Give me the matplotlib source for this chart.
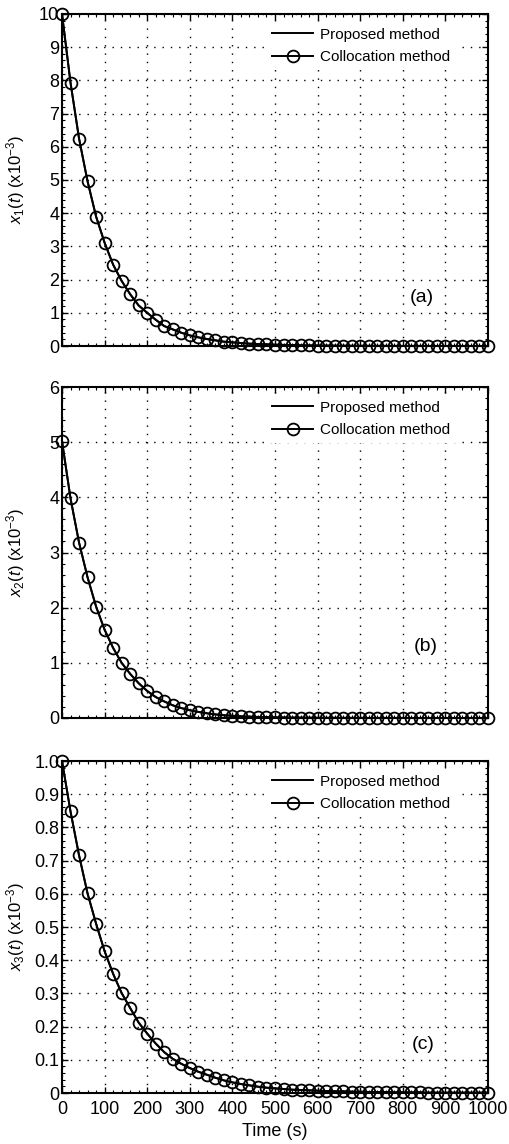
import matplotlib
matplotlib.use('Agg')
import matplotlib.pyplot as plt
from matplotlib.ticker import MultipleLocator, FixedLocator, FixedFormatter

plt.rcParams['font.family'] = ['Liberation Sans', 'DejaVu Sans']
plt.rcParams['mathtext.fontset'] = 'custom'
plt.rcParams['mathtext.rm'] = 'Liberation Sans'
plt.rcParams['mathtext.it'] = 'Liberation Sans:italic'

# time samples (s), one every 20 s
time = list(range(0, 1001, 20))

x1 = [10.0, 7.93, 6.25, 4.96, 3.90, 3.11, 2.45, 1.96, 1.56, 1.22, 1.0, 0.79, 0.60,
      0.50, 0.40, 0.32, 0.26, 0.21, 0.17, 0.13, 0.11, 0.09, 0.07, 0.06, 0.05, 0.04,
      0.033, 0.027, 0.022, 0.018, 0.015, 0.012, 0.01, 0.008, 0.007, 0.006, 0.005,
      0.004, 0.003, 0.003, 0.002, 0.002, 0.002, 0.001, 0.001, 0.001, 0.001, 0.001,
      0.0, 0.0, 0.0]
x2 = [5.02, 3.98, 3.18, 2.55, 2.02, 1.60, 1.27, 1.0, 0.80, 0.63, 0.49, 0.38, 0.30,
      0.23, 0.18, 0.14, 0.11, 0.085, 0.065, 0.05, 0.04, 0.03, 0.024, 0.019, 0.015,
      0.012, 0.009, 0.007, 0.006, 0.005, 0.004, 0.003, 0.003, 0.002, 0.002, 0.002,
      0.001, 0.001, 0.001, 0.001, 0.001, 0.0, 0.0, 0.0, 0.0, 0.0, 0.0, 0.0, 0.0,
      0.0, 0.0]
x3 = [1.0, 0.848, 0.716, 0.601, 0.51, 0.427, 0.359, 0.301, 0.256, 0.212, 0.179,
      0.149, 0.123, 0.103, 0.088, 0.075, 0.064, 0.055, 0.046, 0.038, 0.032, 0.027,
      0.023, 0.019, 0.016, 0.014, 0.012, 0.010, 0.009, 0.008, 0.007, 0.006, 0.005,
      0.005, 0.004, 0.004, 0.003, 0.003, 0.003, 0.002, 0.002, 0.002, 0.002, 0.001,
      0.001, 0.001, 0.001, 0.001, 0.001, 0.001, 0.001]

series = [x1, x2, x3]
ylabels = [r'$x_1(t)$ (x10$^{-3}$)', r'$x_2(t)$ (x10$^{-3}$)', r'$x_3(t)$ (x10$^{-3}$)']
ylims = [(0, 10), (0, 6), (0, 1.0)]
ysteps = [1, 1, 0.1]
panel_tags = ['(a)', '(b)', '(c)']
tag_pos = [(0.845, 0.145), (0.854, 0.215), (0.847, 0.145)]
xticks = [0, 100, 200, 300, 400, 500, 600, 700, 800, 900, 1000]
x3_ticklabels = ['0', '0.1', '0.2', '0.3', '0.4', '0.5', '0.6', '0.7', '0.8', '0.9', '1.0']

fig = plt.figure(figsize=(5.10, 11.44), dpi=100)
left, width = 62 / 510, 426 / 510
bottoms = [1 - 346 / 1144, 1 - 718 / 1144, 1 - 1093 / 1144]
heights = [332 / 1144, 331 / 1144, 332 / 1144]

for i in range(3):
    ax = fig.add_axes([left, bottoms[i], width, heights[i]])
    y = series[i]
    ax.plot(time, y, color='black', lw=1.4, label='Proposed method', zorder=3)
    ax.plot(time, y, color='black', lw=1.4, marker='o', ms=8.5, mfc='none',
            mec='black', mew=1.3, label='Collocation method', clip_on=False, zorder=4)

    ax.set_xlim(0, 1000)
    ax.set_ylim(*ylims[i])
    ax.xaxis.set_major_locator(FixedLocator(xticks))
    ax.xaxis.set_minor_locator(MultipleLocator(20))
    ax.yaxis.set_major_locator(MultipleLocator(ysteps[i]))
    ax.yaxis.set_minor_locator(MultipleLocator(ysteps[i] / 5))
    if i == 2:
        ax.yaxis.set_major_locator(FixedLocator([k / 10 for k in range(11)]))
        ax.yaxis.set_major_formatter(FixedFormatter(x3_ticklabels))

    ax.tick_params(which='both', direction='in', top=True, right=True)
    ax.tick_params(which='major', length=4, width=1, labelsize=13, pad=2)
    ax.tick_params(axis='x', which='major', pad=6)
    ax.tick_params(which='minor', length=2, width=0.8)
    if i < 2:
        ax.tick_params(axis='x', labelbottom=False)

    ax.grid(True, which='major', color='black', lw=1.0, linestyle=(0, (1, 5)))
    for s in ax.spines.values():
        s.set_linewidth(1.5)

    ax.set_ylabel(ylabels[i], fontsize=12, labelpad=4)
    ax.yaxis.set_label_coords(-0.083, 0.5)

    leg = ax.legend(loc='upper left', bbox_to_anchor=(0.479, 0.977), frameon=True,
                    fontsize=11, handlelength=2.7, handletextpad=0.45, labelspacing=0.55,
                    borderpad=0.4, borderaxespad=0, fancybox=False, framealpha=1)
    leg.get_frame().set_facecolor('white')
    leg.get_frame().set_edgecolor('none')
    leg.set_zorder(5)
    ax.text(tag_pos[i][0], tag_pos[i][1], panel_tags[i], transform=ax.transAxes,
            fontsize=14, ha='center', va='center')

    if i == 2:
        ax.set_xlabel('Time (s)', fontsize=13, labelpad=3)

fig.savefig('out.png', dpi=100)
